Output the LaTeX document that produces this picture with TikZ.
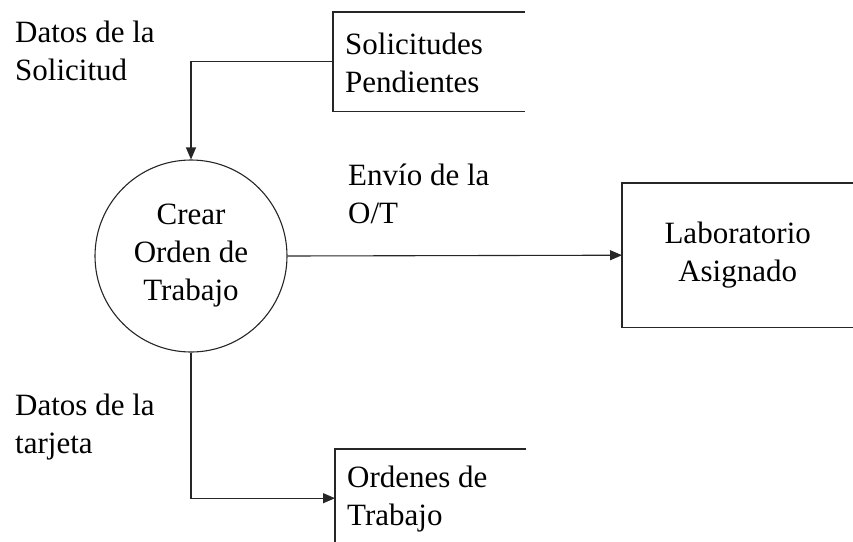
\documentclass[tikz,border=0pt]{standalone}
\usepackage{fontspec}
\setmainfont{Liberation Serif}
\usetikzlibrary{arrows.meta,calc}
\begin{document}
\begin{tikzpicture}[x=1pt,y=-1pt,
  every node/.style={font=\fontsize{31}{38}\selectfont},
  line/.style={line width=1.1pt,draw=black!85},
  flow/.style={line, -{Triangle[length=12pt,width=10pt]}},
  lbl/.style={inner sep=0pt, anchor=base west, align=left},
  store/.style={inner sep=0pt, anchor=north west}]
\useasboundingbox (0,0) rectangle (853,541);
\clip (0,0) rectangle (853,541);
% process
\node[line, draw, circle, minimum size=192pt, inner sep=0pt, align=center] (p) at (191,256) {Crear\\Orden de\\Trabajo};
% data store: Solicitudes Pendientes
\node[store, minimum width=192pt, minimum height=99pt] (s1) at (333,12) {};
\draw[line] (s1.north east) -- (s1.north west) -- (s1.south west) -- (s1.south east);
\node[lbl] (s1t) at (345,92) {Solicitudes\\Pendientes};
% data store: Ordenes de Trabajo
\node[store, minimum width=191pt, minimum height=98pt] (s2) at (335,449) {};
\draw[line] (s2.north east) -- (s2.north west) -- (s2.south west) -- (s2.south east);
\node[lbl] (s2t) at (347,525) {Ordenes de\\Trabajo};
% external entity
\node[inner sep=0pt, minimum width=231pt, minimum height=144pt, anchor=north west, align=center] (lab) at (622,183) {Laboratorio\\Asignado};
\draw[line] ($(lab.north east)+(12,0)$) -- (lab.north west) -- (lab.south west) -- ($(lab.south east)+(12,0)$);
% flows
\draw[flow] (s1.west) -| (p.north);
\draw[flow] (p.east) -- (lab.west);
\draw[flow] (p.south) |- (s2.west);
% flow labels
\node[lbl] (l1) at (15,80) {Datos de la\\Solicitud};
\node[lbl] (l2) at (348,223) {Envío de la\\O/T};
\node[lbl] (l3) at (15,453) {Datos de la\\tarjeta};
\end{tikzpicture}
\end{document}
